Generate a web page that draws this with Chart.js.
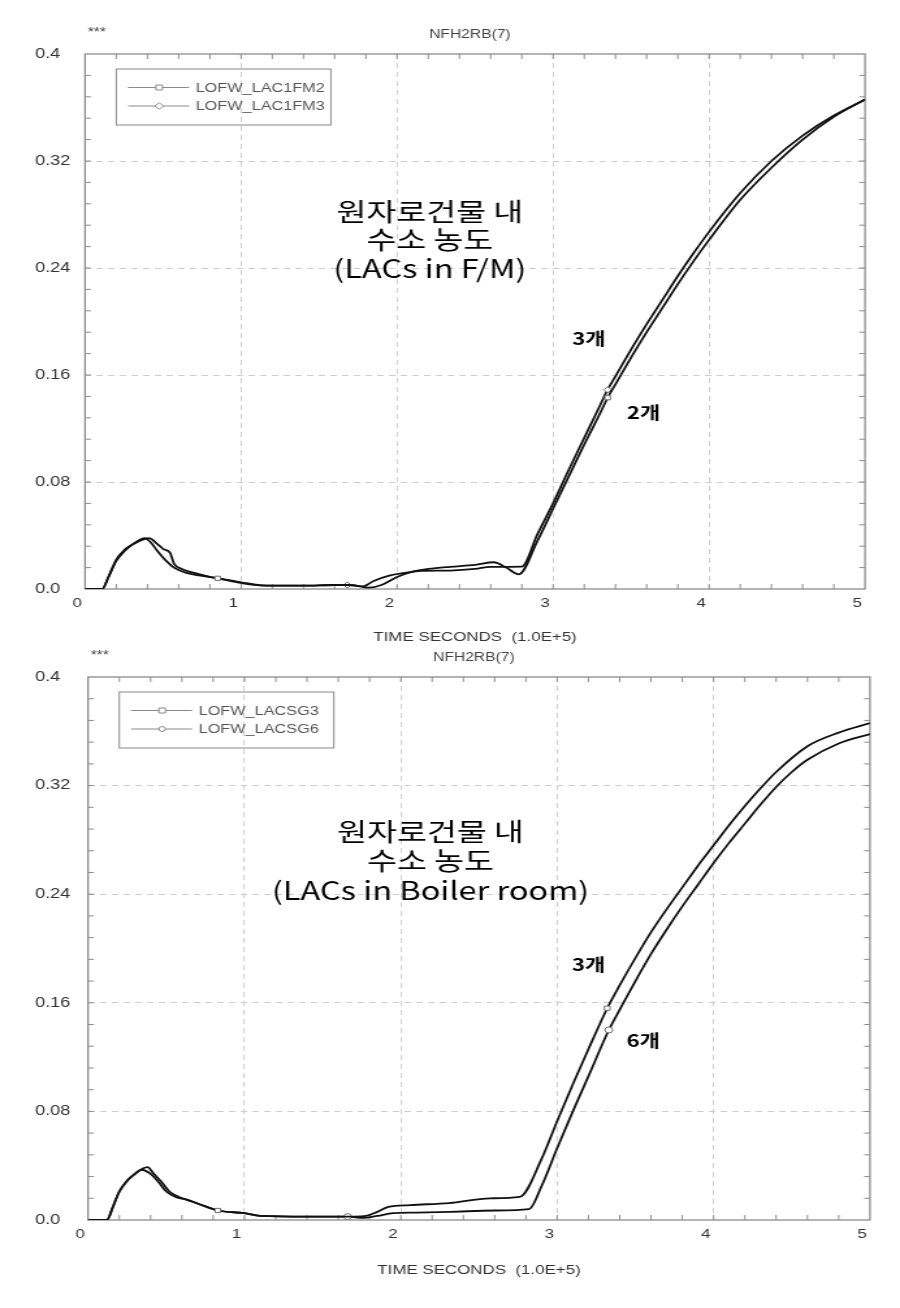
<!DOCTYPE html>
<html>
<head>
<meta charset="utf-8">
<script src="https://cdn.jsdelivr.net/npm/chart.js@4/dist/chart.umd.min.js"></script>
<style>
  html, body { margin: 0; padding: 0; background: #fff; }
  #page { width: 900px; height: 1308px; overflow: hidden; }
  /* the source plot is a horizontally stretched bitmap, so stretch the canvases the same way */
  canvas { display: block; transform-origin: 0 0; transform: scaleX(1.3006); }
</style>
</head>
<body>
<div id="page">
  <canvas id="chartFM" width="692" height="646"></canvas>
  <canvas id="chartSG" width="692" height="662"></canvas>
</div>
<script>
const xTicks = [0, 1, 2, 3, 4, 5];
const xTickLabels = ["0", "1", "2", "3", "4", "5"];
const yTicks = [0, 0.08, 0.16, 0.24, 0.32, 0.4];
const yTickLabels = ["0.0", "0.08", "0.16", "0.24", "0.32", "0.4"];

// upper plot, LACs in F/M
const timeFM2 = [0, 0.11, 0.15, 0.20, 0.25, 0.30, 0.35, 0.41, 0.46, 0.50, 0.545, 0.57, 0.62, 0.70, 0.80, 0.85, 1.00, 1.17, 1.40, 1.60, 1.70, 1.82, 1.90, 2.00, 2.10, 2.20, 2.34, 2.50, 2.62, 2.70, 2.78,
  2.90, 3.00, 3.10, 3.20, 3.30, 3.35, 3.40, 3.50, 3.60, 3.70, 3.80, 3.90, 4.00, 4.20, 4.40, 4.60, 4.80, 5.00];
const h2FM2 = [0, 0, 0.009, 0.021, 0.028, 0.033, 0.036, 0.038, 0.034, 0.030, 0.027, 0.019, 0.015, 0.012, 0.009, 0.008, 0.005, 0.0025, 0.0025, 0.003, 0.003, 0.001, 0.003, 0.009, 0.013, 0.015, 0.0166, 0.018, 0.020, 0.016, 0.011,
  0.036, 0.060, 0.084, 0.108, 0.131, 0.143, 0.153, 0.173, 0.192, 0.210, 0.228, 0.245, 0.261, 0.291, 0.315, 0.336, 0.353, 0.366];
const timeFM3 = [0, 0.11, 0.15, 0.20, 0.25, 0.30, 0.34, 0.38, 0.42, 0.46, 0.52, 0.57, 0.65, 0.74, 0.85, 1.00, 1.17, 1.40, 1.60, 1.68, 1.78, 1.85, 1.95, 2.05, 2.15, 2.34, 2.50, 2.60, 2.80,
  2.90, 3.00, 3.10, 3.20, 3.30, 3.35, 3.40, 3.50, 3.60, 3.70, 3.80, 3.90, 4.00, 4.20, 4.40, 4.60, 4.80, 5.00];
const h2FM3 = [0, 0, 0.009, 0.022, 0.029, 0.033, 0.036, 0.038, 0.035, 0.029, 0.021, 0.016, 0.012, 0.010, 0.008, 0.0045, 0.0025, 0.0025, 0.003, 0.003, 0.002, 0.006, 0.010, 0.012, 0.0135, 0.0138, 0.015, 0.0166, 0.0168,
  0.041, 0.064, 0.089, 0.113, 0.137, 0.149, 0.159, 0.179, 0.198, 0.216, 0.234, 0.251, 0.267, 0.296, 0.320, 0.339, 0.354, 0.366];
const marksFM2 = [0.85, 3.35];
const marksFM3 = [1.68, 3.35];

// lower plot, LACs in the boiler room
const timeSG3 = [0, 0.12, 0.16, 0.20, 0.25, 0.30, 0.35, 0.38, 0.42, 0.47, 0.52, 0.58, 0.63, 0.75, 0.83, 1.00, 1.10, 1.40, 1.70, 1.78, 1.85, 1.92, 2.06, 2.31, 2.57, 2.76,
  2.90, 3.00, 3.10, 3.20, 3.32, 3.40, 3.50, 3.60, 3.70, 3.80, 3.90, 4.00, 4.10, 4.20, 4.30, 4.40, 4.60, 4.80, 5.00];
const h2SG3 = [0, 0, 0.010, 0.021, 0.029, 0.034, 0.038, 0.039, 0.034, 0.028, 0.021, 0.017, 0.015, 0.010, 0.007, 0.005, 0.003, 0.0025, 0.0025, 0.003, 0.006, 0.0096, 0.011, 0.0125, 0.016, 0.017,
  0.045, 0.073, 0.100, 0.126, 0.156, 0.173, 0.193, 0.212, 0.229, 0.245, 0.261, 0.276, 0.291, 0.305, 0.318, 0.330, 0.349, 0.359, 0.366];
const timeSG6 = [0, 0.12, 0.16, 0.20, 0.25, 0.30, 0.34, 0.40, 0.45, 0.50, 0.56, 0.63, 0.75, 0.83, 1.00, 1.10, 1.40, 1.66, 1.76, 1.85, 1.95, 2.10, 2.31, 2.60, 2.82,
  2.90, 3.00, 3.10, 3.20, 3.33, 3.40, 3.50, 3.60, 3.70, 3.80, 3.90, 4.00, 4.10, 4.20, 4.30, 4.40, 4.50, 4.60, 4.80, 5.00];
const h2SG6 = [0, 0, 0.010, 0.021, 0.029, 0.034, 0.037, 0.034, 0.028, 0.021, 0.017, 0.015, 0.010, 0.007, 0.005, 0.003, 0.0025, 0.0025, 0.0015, 0.003, 0.005, 0.0055, 0.006, 0.007, 0.008,
  0.025, 0.053, 0.080, 0.106, 0.140, 0.155, 0.176, 0.196, 0.214, 0.231, 0.247, 0.263, 0.278, 0.292, 0.306, 0.319, 0.330, 0.339, 0.351, 0.358];
const marksSG3 = [0.83, 3.32];
const marksSG6 = [1.66, 3.33];

const axisFont = "'Liberation Sans', Arial, sans-serif";
const koFont = "'Noto Sans CJK KR', sans-serif";

const toPoints = (xs, ys) => xs.map((x, i) => ({ x: x, y: ys[i] }));

const series = (label, xs, ys, marks, style) => ({
  label: label,
  data: toPoints(xs, ys),
  borderColor: "#111",
  borderWidth: 1.8,
  cubicInterpolationMode: "monotone",
  pointStyle: style,
  pointRadius: (c) => (c.raw && marks.includes(c.raw.x) ? 3 : 0),
  pointHoverRadius: 0,
  pointBorderColor: "#6f6f6f",
  pointBackgroundColor: "#fff",
  pointBorderWidth: 1,
});

function drawMarker(ctx, style, x, y, r) {
  ctx.beginPath();
  if (style === "rect") {
    ctx.rect(x - r, y - r, 2 * r, 2 * r);
  } else if (style === "rectRot") {
    ctx.moveTo(x, y - r * 1.3); ctx.lineTo(x + r * 1.3, y);
    ctx.lineTo(x, y + r * 1.3); ctx.lineTo(x - r * 1.3, y);
    ctx.closePath();
  } else {
    ctx.arc(x, y, r, 0, Math.PI * 2);
  }
  ctx.fill();
  ctx.stroke();
}

// plot frame with the small inward ticks on all four sides
const framePlugin = {
  id: "frame",
  beforeDatasetsDraw(chart) {
    const { ctx, chartArea: a, scales } = chart;
    const x = scales.x, y = scales.y;
    ctx.save();
    ctx.strokeStyle = "#8c8c8c";
    ctx.lineWidth = 1;
    ctx.beginPath();
    for (let i = 1; i < 25; i++) {
      const py = y.getPixelForValue(y.min + (y.max - y.min) * i / 25);
      ctx.moveTo(a.left, py); ctx.lineTo(a.left + 4.5, py);
      ctx.moveTo(a.right, py); ctx.lineTo(a.right - 4.5, py);
      const px = x.getPixelForValue(x.min + (x.max - x.min) * i / 25);
      ctx.moveTo(px, a.bottom); ctx.lineTo(px, a.bottom - 5);
      ctx.moveTo(px, a.top); ctx.lineTo(px, a.top + 5);
    }
    ctx.stroke();
    ctx.lineWidth = 1.3;
    ctx.strokeRect(a.left, a.top, a.right - a.left, a.bottom - a.top);
    ctx.restore();
  },
};

// boxed legend, header texts and the labels written inside the plot
const notesPlugin = {
  id: "notes",
  afterDraw(chart, args, opts) {
    const { ctx, chartArea: a, scales } = chart;
    ctx.save();

    ctx.fillStyle = "#444";
    ctx.font = "12px " + axisFont;
    ctx.textBaseline = "middle";
    ctx.textAlign = "left";
    ctx.fillText("***", a.left + 2, a.top - 21);
    ctx.textAlign = "center";
    ctx.fillText(opts.title, (a.left + a.right) / 2 - 4, a.top - 19);

    const bx = a.left + 24, by = a.top + 15;
    ctx.strokeStyle = "#888";
    ctx.lineWidth = 1;
    ctx.strokeRect(bx, by, 165, 56);
    ctx.font = "12.5px " + axisFont;
    ctx.textAlign = "left";
    chart.data.datasets.forEach((ds, i) => {
      const ly = by + 18.5 + i * 18.5;
      ctx.strokeStyle = "#8a8a8a";
      ctx.beginPath();
      ctx.moveTo(bx + 9, ly); ctx.lineTo(bx + 56, ly);
      ctx.stroke();
      ctx.fillStyle = "#fff";
      drawMarker(ctx, ds.pointStyle, bx + 33, ly, 2.5);
      ctx.fillStyle = "#555";
      ctx.fillText(ds.label, bx + 61, ly + 1);
    });

    ctx.fillStyle = "#000";
    ctx.textAlign = "center";
    opts.notes.forEach((n) => {
      ctx.font = n.font;
      ctx.fillText(n.text, scales.x.getPixelForValue(n.x), scales.y.getPixelForValue(n.y));
    });
    ctx.restore();
  },
};

function makeChart(id, datasets, frame) {
  return new Chart(document.getElementById(id), {
    type: "line",
    data: { datasets: datasets },
    plugins: [framePlugin, notesPlugin],
    options: {
      responsive: false,
      animation: false,
      devicePixelRatio: 1,
      layout: {
        padding: { left: 26.9, right: frame.right, top: frame.top, bottom: 0 },
      },
      plugins: {
        legend: { display: false },
        tooltip: { enabled: false },
        notes: { title: "NFH2RB(7)", notes: frame.notes },
      },
      scales: {
        x: {
          type: "linear",
          min: 0,
          max: 5,
          afterBuildTicks: (scale) => { scale.ticks = xTicks.map((v) => ({ value: v })); },
          afterFit: (scale) => { scale.height = frame.axisHeight; },
          ticks: {
            autoSkip: false,
            maxRotation: 0,
            padding: 7,
            labelOffset: -6,
            color: "#333",
            font: { family: axisFont, size: 13 },
            callback: (v, i) => xTickLabels[i],
          },
          grid: {
            drawTicks: false,
            lineWidth: 1,
            color: (c) => (c.tick && c.tick.value > 0 && c.tick.value < 5 ? "#cfcfcf" : "rgba(0,0,0,0)"),
          },
          border: { display: false, dash: [5, 4] },
          title: {
            display: true,
            text: "TIME SECONDS  (1.0E+5)",
            color: "#333",
            font: { family: axisFont, size: 13 },
            padding: { top: 0, bottom: frame.titlePad },
          },
        },
        y: {
          type: "linear",
          min: 0,
          max: 0.4,
          afterBuildTicks: (scale) => { scale.ticks = yTicks.map((v) => ({ value: v })); },
          afterFit: (scale) => { scale.width = frame.axisWidth; },
          ticks: {
            crossAlign: "far",
            color: "#333",
            font: { family: axisFont, size: 14 },
            callback: (v, i) => yTickLabels[i],
          },
          grid: {
            drawTicks: false,
            lineWidth: 1,
            color: (c) => (c.tick && c.tick.value > 0.001 && c.tick.value < 0.399 ? "#cfcfcf" : "rgba(0,0,0,0)"),
          },
          border: { display: false, dash: [5, 4] },
        },
      },
    },
  });
}

const bigFont = "25px " + koFont;
const tagFont = "bold 17px " + koFont;

makeChart("chartFM", [
  series("LOFW_LAC1FM2", timeFM2, h2FM2, marksFM2, "rect"),
  series("LOFW_LAC1FM3", timeFM3, h2FM3, marksFM3, "rectRot"),
], {
  top: 54, right: 26.9, axisWidth: 38.5, axisHeight: 57, titlePad: 1.2,
  notes: [
    { text: "원자로건물 내", x: 2.21, y: 0.282, font: bigFont },
    { text: "수소 농도", x: 2.21, y: 0.261, font: bigFont },
    { text: "(LACs in F/M)", x: 2.21, y: 0.24, font: bigFont },
    { text: "3개", x: 3.23, y: 0.187, font: tagFont },
    { text: "2개", x: 3.58, y: 0.132, font: tagFont },
  ],
});

makeChart("chartSG", [
  series("LOFW_LACSG3", timeSG3, h2SG3, marksSG3, "rect"),
  series("LOFW_LACSG6", timeSG6, h2SG6, marksSG6, "circle"),
], {
  top: 31, right: 23.1, axisWidth: 40.8, axisHeight: 88, titlePad: 30.2,
  notes: [
    { text: "원자로건물 내", x: 2.19, y: 0.286, font: bigFont },
    { text: "수소 농도", x: 2.19, y: 0.265, font: bigFont },
    { text: "(LACs in Boiler room)", x: 2.19, y: 0.243, font: bigFont },
    { text: "3개", x: 3.20, y: 0.188, font: tagFont },
    { text: "6개", x: 3.55, y: 0.132, font: tagFont },
  ],
});
</script>
</body>
</html>
